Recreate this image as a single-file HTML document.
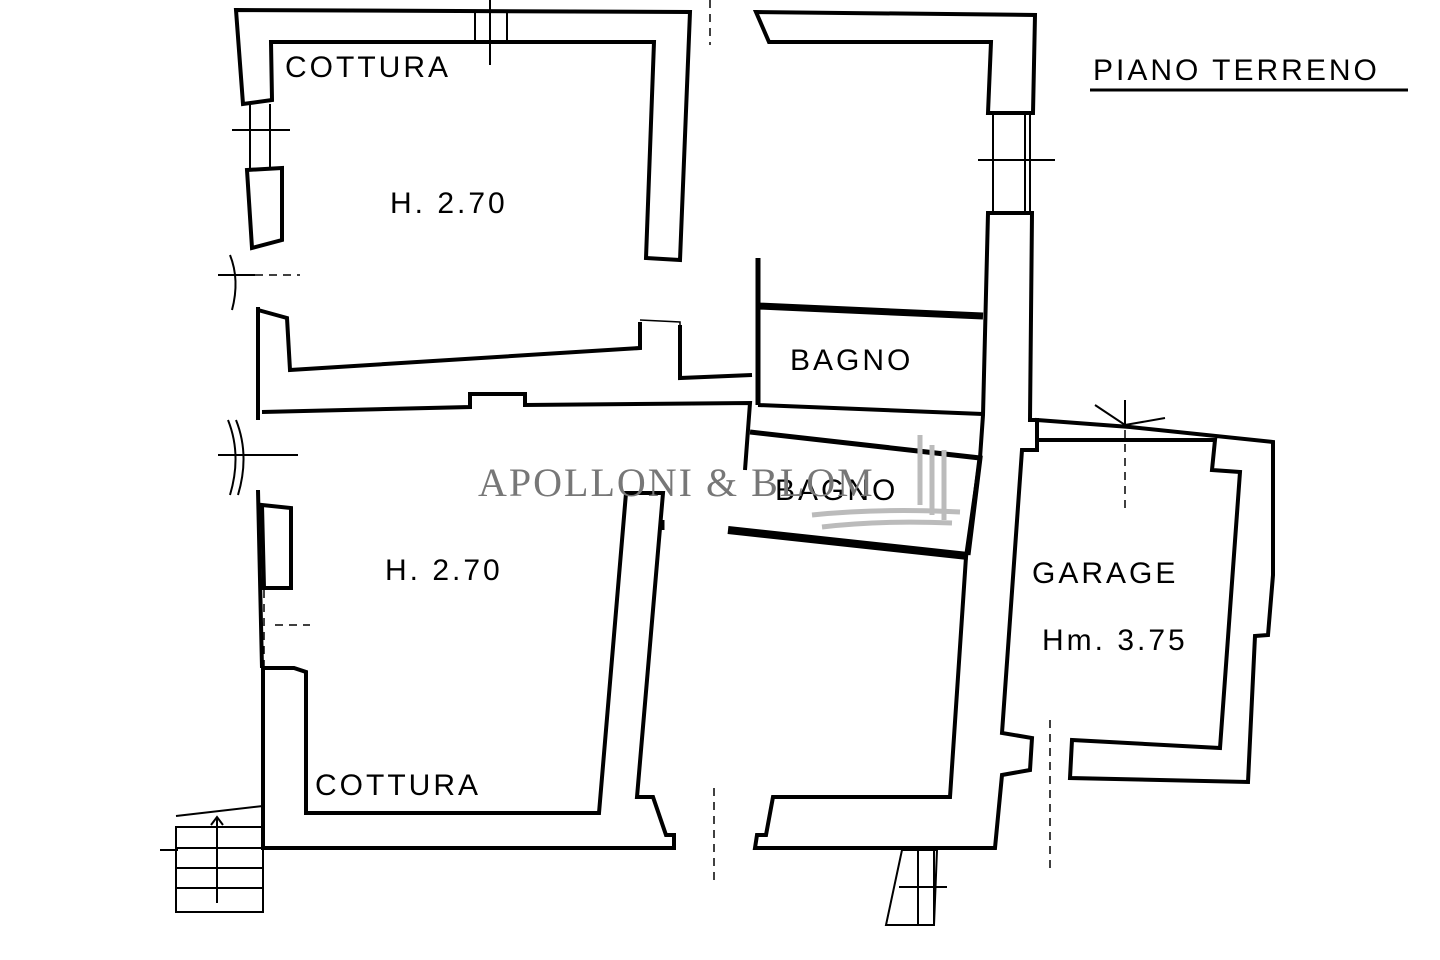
<!DOCTYPE html>
<html><head><meta charset="utf-8"><style>
html,body{margin:0;padding:0;background:#fff;width:1440px;height:960px;overflow:hidden}
svg{display:block}
.lbl{font-family:"Liberation Sans",sans-serif;font-size:30px;fill:#000;letter-spacing:3px}
</style></head><body>
<svg width="1440" height="960" viewBox="0 0 1440 960">
<g fill="#fff" stroke="#000" stroke-width="4" stroke-linejoin="miter">
 <!-- top-left room walls -->
 <polygon points="236,10 690,12 680,260 646,258 654,42 271,42 272,100 243,104"/>
 <polygon points="247,170 282,168 282,240 252,248"/>
 <!-- top-right room walls -->
 <polygon points="756,12 1035,15 1033,113 988,113 991,42 769,42"/>
 <!-- right spine + lower right room -->
 <polygon points="988,213 1032,213 1030,420 1037,420 1037,450 1022,450 1002,733 1032,738 1030,770 1002,775 995,848 755,848 757,835 766,835 773,797 950,797 966,557 980,458 983,415"/>
 <!-- garage -->
 <polygon points="1037,420 1130,427 1273,442 1273,575 1268,635 1255,636 1248,782 1070,778 1072,740 1220,748 1240,472 1212,470 1215,440 1037,440"/>
 <!-- lower left room walls -->
 <polygon points="263,668 294,668 306,672 306,813 599,813 626,493 663,493 637,797 653,797 666,835 674,835 674,848 263,848"/>
 <polygon points="262,505 291,508 291,588 264,588"/>
</g>
<!-- corridor lines -->
<g fill="none" stroke="#000" stroke-width="4">
 <path d="M258,307 L258,420 M258,490 L262,668"/>
 <path d="M258,310 L287,318 L290,370 L640,348 L640,322"/>
 <path d="M680,325 L680,378 L752,375"/>
 <path d="M262,412 L470,407 L470,394 L525,394 L525,405 L750,403 L745,470"/>
</g>
<g fill="none" stroke="#000" stroke-width="1.5">
 <path d="M640,320 L680,322 L680,325"/>
</g>
<!-- bagno walls -->
<g fill="none" stroke="#000">
 <path d="M758,258 L758,405" stroke-width="5"/>
 <path d="M758,306 L983,316" stroke-width="7"/>
 <path d="M758,405 L983,414" stroke-width="4"/>
 <path d="M750,432 L980,458 L968,555" stroke-width="5"/>
 <path d="M728,530 L968,556" stroke-width="8"/>
 <path d="M662,520 L662,530" stroke-width="5"/>
</g>
<!-- windows / door marks -->
<g fill="none" stroke="#000" stroke-width="2">
 <path d="M475,10 V42 M507,10 V42 M490,0 V65"/>
 <path d="M250,104 V170 M270,104 V170 M232,130 H290"/>
 <path d="M993,113 V213 M1025,113 V213 M978,160 H1055 M1030,115 V215"/>
 <path d="M230,255 Q240,280 232,310 M218,275 H255"/>
 <path d="M228,420 Q242,455 230,495 M236,420 Q250,455 238,495 M218,455 H298"/>
 <path d="M1095,405 L1125,425 L1165,418 M1125,400 V425"/>
</g>
<g stroke="#000" stroke-width="1.5" stroke-dasharray="8,6" fill="none">
 <path d="M255,275 L300,275 M275,625 L310,625 M714,788 L714,880 M1125,430 L1125,510 M1050,720 L1050,870 M710,0 L710,45 M264,590 L264,668"/>
</g>
<!-- stairs -->
<g stroke="#000" stroke-width="2" fill="none">
 <path d="M176,827 H263 V912 H176 Z M176,848 H263 M176,868 H263 M176,888 H263 M217,903 V817 M211,825 L217,817 L223,825 M176,816 L263,806"/>
 <path d="M902,850 L937,850 L934,925 L886,925 Z M918,850 V925 M934,850 V925 M899,887 H947"/>
 <path d="M160,850 H178"/>
</g>
<!-- text -->
<text class="lbl" x="285" y="77">COTTURA</text>
<text class="lbl" x="390" y="213">H. 2.70</text>
<text class="lbl" x="790" y="370">BAGNO</text>
<text class="lbl" x="775" y="500">BAGNO</text>
<text class="lbl" x="385" y="580">H. 2.70</text>
<text class="lbl" x="315" y="795">COTTURA</text>
<text class="lbl" x="1032" y="583">GARAGE</text>
<text class="lbl" x="1042" y="650">Hm. 3.75</text>
<text class="lbl" x="1093" y="80">PIANO TERRENO</text>
<line x1="1090" y1="90" x2="1408" y2="90" stroke="#000" stroke-width="3"/>
<text x="478" y="496" font-family="Liberation Serif,serif" font-size="40" fill="#777" letter-spacing="2">APOLLONI &amp; BLOM</text>
<g stroke="#bbb" stroke-width="5" fill="none">
 <path d="M920,435 V505 M932,445 V515 M944,450 V520"/>
 <path d="M812,515 Q880,508 960,512 M822,527 Q880,520 952,523"/>
</g>
</svg>
</body></html>
